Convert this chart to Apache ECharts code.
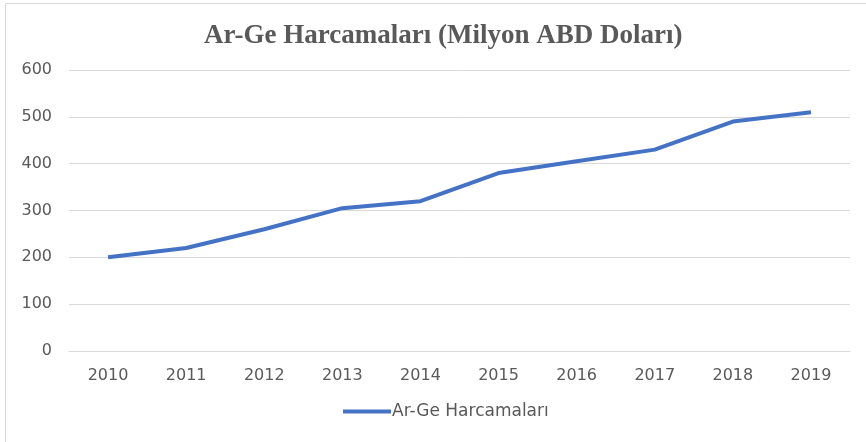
<!DOCTYPE html>
<html>
<head>
<meta charset="utf-8">
<script src="https://cdn.jsdelivr.net/npm/echarts@6/dist/echarts.min.js"></script>
<style>
  html, body { margin: 0; padding: 0; background: #fff; }
  #main { width: 866px; height: 442px; }
</style>
</head>
<body>
<div id="main"></div>
<script>
// data
const years = ['2010', '2011', '2012', '2013', '2014', '2015', '2016', '2017', '2018', '2019'];
const spending = [200, 220, 260, 305, 320, 380, 405, 430, 490, 510];
const seriesName = 'Ar-Ge Harcamaları';

var myChart = echarts.init(document.getElementById('main'));

var labelFont = { fontFamily: 'DejaVu Sans', fontSize: 16, color: '#595959' };

var option = {
  animation: false,
  title: {
    text: 'Ar-Ge Harcamaları (Milyon ABD Doları)',
    left: 199,
    top: 18,
    textStyle: {
      fontFamily: 'Liberation Serif',
      fontWeight: 'bold',
      fontSize: 27,
      color: '#595959'
    }
  },
  graphic: [{
    type: 'rect',
    shape: { x: 5.5, y: 3.5, width: 870, height: 445 },
    style: { fill: 'none', stroke: '#d9d9d9', lineWidth: 1 },
    silent: true
  }],
  legend: {
    bottom: 17,
    left: 338,
    itemWidth: 48,
    itemHeight: 4,
    itemGap: 0,
    icon: 'rect',
    textStyle: Object.assign({}, labelFont, { fontSize: 17, padding: [0, 0, 0, -4] }),
    data: [seriesName]
  },
  grid: {
    left: 69,
    right: 16,
    top: 70,
    bottom: 91,
    containLabel: false
  },
  xAxis: {
    type: 'category',
    data: years,
    boundaryGap: true,
    axisLine: { show: true, lineStyle: { color: '#d9d9d9' } },
    axisTick: { show: false },
    axisLabel: Object.assign({ margin: 17 }, labelFont)
  },
  yAxis: {
    type: 'value',
    min: 0,
    max: 600,
    interval: 100,
    axisLine: { show: false },
    axisTick: { show: false },
    splitLine: { lineStyle: { color: '#d9d9d9' } },
    axisLabel: Object.assign({ margin: 17 }, labelFont)
  },
  series: [{
    name: seriesName,
    type: 'line',
    data: spending,
    showSymbol: false,
    symbol: 'none',
    lineStyle: { color: '#4472c4', width: 4 },
    itemStyle: { color: '#4472c4' }
  }]
};

myChart.setOption(option);
</script>
</body>
</html>
